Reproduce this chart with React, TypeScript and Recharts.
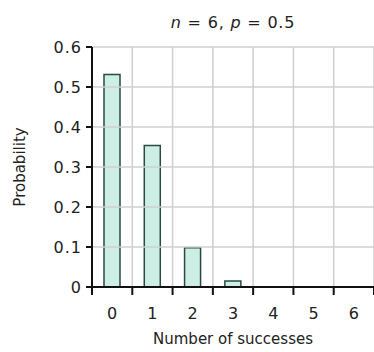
import { BarChart, Bar, XAxis, YAxis, ReferenceLine, Label } from "recharts";

const successes = [0, 1, 2, 3, 4, 5, 6];
const probabilities = [0.531, 0.354, 0.098, 0.015, 0, 0, 0];
const yTicks = [0, 0.1, 0.2, 0.3, 0.4, 0.5, 0.6];
const binEdges = [-0.5, 0.5, 1.5, 2.5, 3.5, 4.5, 5.5, 6.5];

const font = "DejaVu Sans, sans-serif";

const data = successes.map((k, i) => ({ k, p: probabilities[i] }));

export default function App() {
  return (
    <div style={{ position: "absolute", left: 0, top: 0, width: 374, height: 352, background: "#fff" }}>
      <BarChart
        width={374}
        height={352}
        data={data}
        margin={{ top: 47, right: 0, bottom: 0, left: 0 }}
        style={{ fontFamily: font }}
      >
        <XAxis
          xAxisId={0}
          dataKey="k"
          type="number"
          domain={[-0.5, 6.5]}
          ticks={binEdges}
          tickFormatter={() => ""}
          stroke="#111"
          strokeWidth={2}
          tickSize={8}
          height={10}
          allowDataOverflow
        />
        <XAxis
          xAxisId="labels"
          dataKey="k"
          type="number"
          domain={[-0.5, 6.5]}
          ticks={successes}
          axisLine={false}
          tickLine={false}
          tickSize={0}
          tickMargin={11}
          height={55}
          tick={{ fontSize: 16, fill: "#222", fontFamily: font }}
        >
          <Label
            value="Number of successes"
            position="insideBottom"
            offset={8}
            style={{ fontSize: 15, fill: "#222", fontFamily: font }}
          />
        </XAxis>
        <YAxis
          yAxisId={0}
          domain={[0, 0.6]}
          ticks={yTicks}
          width={92}
          stroke="#111"
          strokeWidth={2}
          tickSize={6}
          tickMargin={4}
          tick={{ fontSize: 16, fill: "#222", fontFamily: font, letterSpacing: 1 }}
        >
          <Label
            value="Probability"
            angle={-90}
            position="insideLeft"
            offset={20}
            style={{ fontSize: 15, fill: "#222", fontFamily: font, textAnchor: "middle" }}
          />
        </YAxis>
        {binEdges.slice(1).map((e) => (
          <ReferenceLine key={"x" + e} x={e} xAxisId={0} yAxisId={0} stroke="#cfcfcf" strokeWidth={1.5} />
        ))}
        {yTicks.slice(1).map((t) => (
          <ReferenceLine key={"y" + t} y={t} xAxisId={0} yAxisId={0} stroke="#cfcfcf" strokeWidth={1.5} />
        ))}
        <Bar
          dataKey="p"
          xAxisId={0}
          yAxisId={0}
          barSize={16}
          fill="#cdeee5"
          stroke="#2b4a42"
          strokeWidth={1.5}
          isAnimationActive={false}
        />
      </BarChart>
      <svg width={374} height={40} style={{ position: "absolute", left: 0, top: 0 }}>
        <text x={233} y={28} textAnchor="middle" fontFamily={font} fontSize={16} letterSpacing={0.8} fill="#222">
          <tspan fontStyle="italic">n</tspan> = 6, <tspan fontStyle="italic">p</tspan> = 0.5
        </text>
      </svg>
    </div>
  );
}
